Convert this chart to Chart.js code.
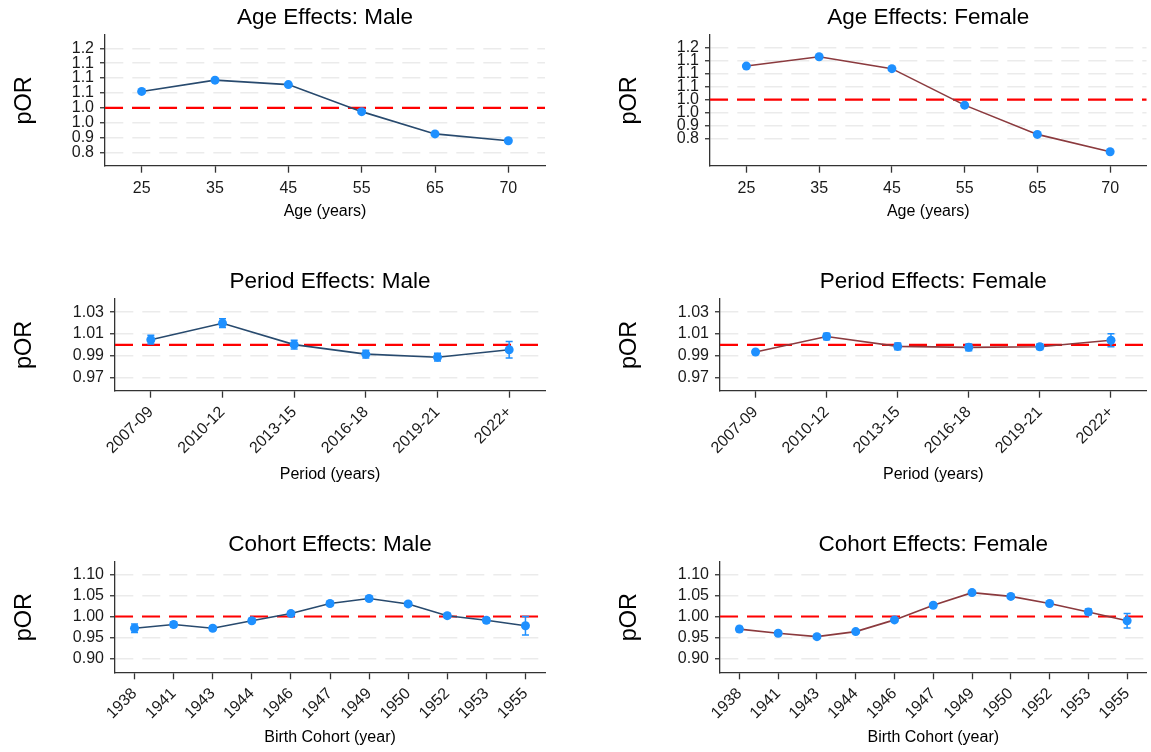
<!DOCTYPE html>
<html>
<head>
<meta charset="utf-8">
<title>Age, period and cohort effects</title>
<script src="https://cdn.jsdelivr.net/npm/chart.js@4.4.1/dist/chart.umd.min.js"></script>
<style>
  html, body { margin: 0; padding: 0; background: #fff; overflow: hidden; }
  canvas { position: absolute; }
</style>
</head>
<body>
<canvas id="ageMale" width="560" height="226" style="left:0;top:0"></canvas>
<canvas id="ageFemale" width="546" height="226" style="left:605px;top:0"></canvas>
<canvas id="periodMale" width="560" height="225" style="left:0;top:264px"></canvas>
<canvas id="periodFemale" width="546" height="225" style="left:605px;top:264px"></canvas>
<canvas id="cohortMale" width="560" height="225" style="left:0;top:527px"></canvas>
<canvas id="cohortFemale" width="546" height="225" style="left:605px;top:527px"></canvas>
<script>
// categories
const ageLabels = ['25', '35', '45', '55', '65', '70'];
const periodLabels = ['2007-09', '2010-12', '2013-15', '2016-18', '2019-21', '2022+'];
const cohortLabels = ['1938', '1941', '1943', '1944', '1946', '1947', '1949', '1950', '1952', '1953', '1955'];

// y ticks (values and printed text)
const ageTicks = [0.85, 0.90, 0.95, 1.00, 1.05, 1.10, 1.15, 1.20];
const ageTickText = ['0.8', '0.9', '1.0', '1.0', '1.1', '1.1', '1.1', '1.2'];
const periodTicks = [0.97, 0.99, 1.01, 1.03];
const periodTickText = ['0.97', '0.99', '1.01', '1.03'];
const cohortTicks = [0.90, 0.95, 1.00, 1.05, 1.10];
const cohortTickText = ['0.90', '0.95', '1.00', '1.05', '1.10'];

// pOR estimates and CI half widths
const ageMale = [1.055, 1.093, 1.078, 0.987, 0.912, 0.889];
const ageMaleErr = [0.004, 0.004, 0.004, 0.004, 0.004, 0.004];
const ageFemale = [1.130, 1.166, 1.120, 0.979, 0.866, 0.799];
const ageFemaleErr = [0.004, 0.004, 0.004, 0.004, 0.004, 0.004];
const periodMale = [1.0047, 1.0198, 1.0002, 0.9915, 0.9887, 0.9955];
const periodMaleErr = [0.004, 0.004, 0.004, 0.0035, 0.0035, 0.0075];
const periodFemale = [0.9934, 1.0077, 0.9986, 0.9977, 0.9983, 1.0042];
const periodFemaleErr = [0.002, 0.003, 0.003, 0.003, 0.0025, 0.006];
const cohortMale = [0.972, 0.981, 0.972, 0.990, 1.007, 1.031, 1.043, 1.030, 1.002, 0.991, 0.978];
const cohortMaleErr = [0.010, 0.006, 0.005, 0.005, 0.005, 0.005, 0.005, 0.005, 0.005, 0.006, 0.022];
const cohortFemale = [0.970, 0.960, 0.952, 0.964, 0.992, 1.027, 1.057, 1.048, 1.031, 1.011, 0.990];
const cohortFemaleErr = [0.006, 0.004, 0.004, 0.004, 0.004, 0.004, 0.004, 0.004, 0.004, 0.007, 0.0175];

Chart.defaults.font.family = "'Liberation Sans', Arial, sans-serif";
Chart.defaults.color = '#1a1a1a';

// dashed red line at pOR = 1
const refLine = {
    id: 'refLine',
    beforeDatasetsDraw(chart) {
        const {ctx, chartArea, scales} = chart;
        const py = scales.y.getPixelForValue(1);
        ctx.save();
        ctx.strokeStyle = '#ff0000';
        ctx.lineWidth = 2.2;
        ctx.setLineDash([18, 9]);
        ctx.beginPath();
        ctx.moveTo(chartArea.left, py);
        ctx.lineTo(chartArea.right, py);
        ctx.stroke();
        ctx.restore();
    }
};

// vertical CI bars with small caps
const errorBars = {
    id: 'errorBars',
    beforeDatasetsDraw(chart) {
        const {ctx, scales} = chart;
        const ds = chart.data.datasets[0];
        const meta = chart.getDatasetMeta(0);
        ctx.save();
        ctx.strokeStyle = '#1e90ff';
        ctx.lineWidth = 1.5;
        meta.data.forEach((pt, i) => {
            const top = scales.y.getPixelForValue(ds.data[i] + ds.errors[i]);
            const bot = scales.y.getPixelForValue(ds.data[i] - ds.errors[i]);
            ctx.beginPath();
            ctx.moveTo(pt.x, top); ctx.lineTo(pt.x, bot);
            ctx.moveTo(pt.x - 3.5, top); ctx.lineTo(pt.x + 3.5, top);
            ctx.moveTo(pt.x - 3.5, bot); ctx.lineTo(pt.x + 3.5, bot);
            ctx.stroke();
        });
        ctx.restore();
    }
};

function panel(id, p) {
    new Chart(document.getElementById(id), {
        type: 'line',
        data: {
            labels: p.labels,
            datasets: [{
                data: p.values,
                errors: p.errors,
                borderColor: p.color,
                borderWidth: 1.6,
                pointRadius: 4.5,
                pointHoverRadius: 4.5,
                pointBackgroundColor: '#1e90ff',
                pointBorderWidth: 0,
                tension: 0
            }]
        },
        options: {
            responsive: false,
            animation: false,
            events: [],
            layout: {padding: {left: 0, right: p.padRight, top: 0, bottom: 0}},
            plugins: {
                legend: {display: false},
                tooltip: {enabled: false},
                title: {
                    display: true, text: p.title, fullSize: false, color: '#000',
                    font: {size: 22.5, weight: 'normal'},
                    padding: {top: 4.5, bottom: 3.5}
                }
            },
            scales: {
                x: {
                    offset: true,
                    grid: {drawOnChartArea: false, tickLength: 7, tickColor: '#333', tickWidth: 1.3},
                    border: {color: '#333', width: 1.3},
                    ticks: {
                        autoSkip: false, minRotation: p.rot, maxRotation: p.rot,
                        padding: p.rot ? 5 : 6, font: {size: 16}, color: '#1a1a1a'
                    },
                    title: {display: true, text: p.xTitle, color: '#000', font: {size: 16}, padding: {top: 0, bottom: 4.4}},
                    afterFit: s => { s.height = p.xHeight; }
                },
                y: {
                    min: p.min, max: p.max,
                    afterBuildTicks: s => { s.ticks = p.ticks.map(v => ({value: v})); },
                    ticks: {autoSkip: false, callback: (v, i) => p.tickText[i], font: {size: 16}, padding: 6, color: '#1a1a1a'},
                    grid: {color: '#ebebeb', lineWidth: 1.5, tickLength: 5, tickColor: '#333', tickWidth: 1.3},
                    border: {color: '#333', width: 1.3, dash: [18, 9]},
                    title: {display: true, text: 'pOR', color: '#000', font: {size: 23.5}, padding: {top: 10, bottom: 0}},
                    afterFit: s => { s.width = p.yWidth; }
                }
            }
        },
        plugins: [refLine, errorBars]
    });
}

const maleColor = '#284a6e';
const femaleColor = '#8b3a3e';

panel('ageMale', {title: 'Age Effects: Male', labels: ageLabels, values: ageMale, errors: ageMaleErr,
    color: maleColor, ticks: ageTicks, tickText: ageTickText, min: 0.805, max: 1.245,
    xTitle: 'Age (years)', rot: 0, yWidth: 105, xHeight: 60.3, padRight: 15});
panel('ageFemale', {title: 'Age Effects: Female', labels: ageLabels, values: ageFemale, errors: ageFemaleErr,
    color: femaleColor, ticks: ageTicks, tickText: ageTickText, min: 0.745, max: 1.25,
    xTitle: 'Age (years)', rot: 0, yWidth: 105, xHeight: 60.3, padRight: 1});
panel('periodMale', {title: 'Period Effects: Male', labels: periodLabels, values: periodMale, errors: periodMaleErr,
    color: maleColor, ticks: periodTicks, tickText: periodTickText, min: 0.958, max: 1.042,
    xTitle: 'Period (years)', rot: 45, yWidth: 115, xHeight: 98.3, padRight: 15});
panel('periodFemale', {title: 'Period Effects: Female', labels: periodLabels, values: periodFemale, errors: periodFemaleErr,
    color: femaleColor, ticks: periodTicks, tickText: periodTickText, min: 0.958, max: 1.042,
    xTitle: 'Period (years)', rot: 45, yWidth: 115, xHeight: 98.3, padRight: 1});
panel('cohortMale', {title: 'Cohort Effects: Male', labels: cohortLabels, values: cohortMale, errors: cohortMaleErr,
    color: maleColor, ticks: cohortTicks, tickText: cohortTickText, min: 0.867, max: 1.13,
    xTitle: 'Birth Cohort (year)', rot: 45, yWidth: 115, xHeight: 79.7, padRight: 15});
panel('cohortFemale', {title: 'Cohort Effects: Female', labels: cohortLabels, values: cohortFemale, errors: cohortFemaleErr,
    color: femaleColor, ticks: cohortTicks, tickText: cohortTickText, min: 0.867, max: 1.13,
    xTitle: 'Birth Cohort (year)', rot: 45, yWidth: 115, xHeight: 79.7, padRight: 1});
</script>
</body>
</html>
